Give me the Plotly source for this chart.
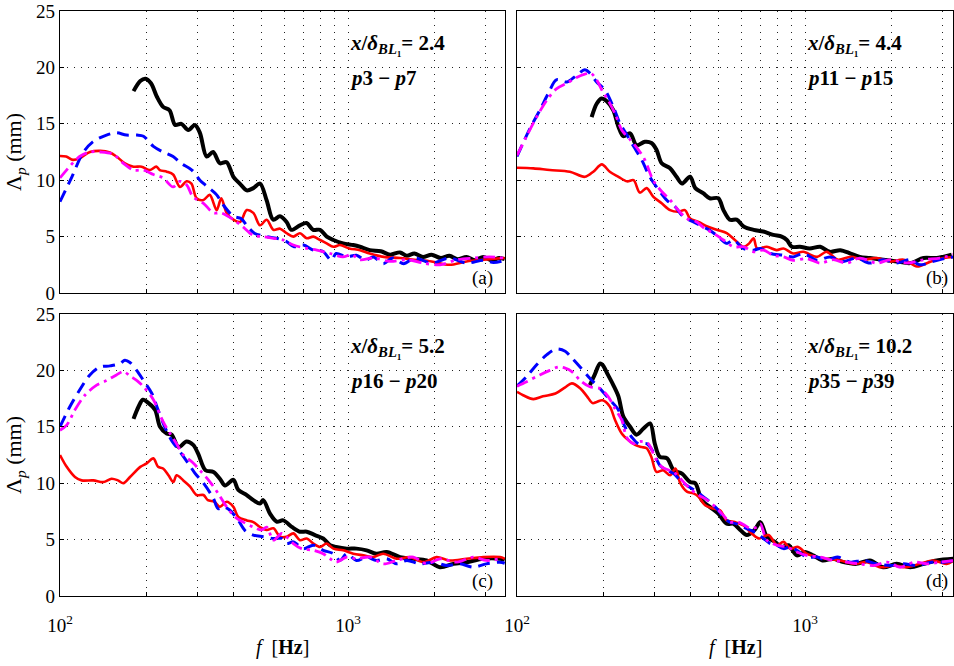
import plotly.graph_objects as go

# ---------------- data (frequency Hz, Lambda_p mm) ----------------
A_BLACK = [(180,17.9),(190,18.8),(198,19.0),(207,18.6),(217,17.4),(228,16.5),(240,16.2),(251,14.9),(264,15.0),(279,14.45),
           (294,14.9),(306,14.2),(323,12.1),(340,12.5),(359,11.5),(379,11.6),(400,10.3),(421,9.7),(445,9.1),(469,9.3),
           (495,9.7),(522,8.2),(550,6.5),(580,6.8),(612,6.3),(635,5.6),(681,6.0),(718,6.2),(757,5.6),(800,5.6),
           (844,5.0),(890,4.7),(962,4.4),(1043,4.25),(1100,4.1),(1190,3.8),(1300,3.7),(1400,3.4),(1515,3.6),(1600,3.3),
           (1700,3.5),(1820,3.2),(1950,3.4),(2100,3.1),(2250,3.3),(2400,3.0),(2580,3.2),(2750,2.9),(2950,3.2),(3150,2.9),
           (3350,3.1),(3500,3.0)]
A_BLUE = [(100,8.1),(110,10.3),(120,12.4),(130,13.4),(145,14.0),(157,14.2),(170,14.0),(185,14.0),(195,13.9),(211,13.0),
          (228,12.5),(247,12.1),(263,11.5),(287,10.9),(306,10.0),(326,9.4),(350,8.7),(369,7.8),(400,6.8),(425,6.6),
          (448,5.9),(473,5.3),(522,5.0),(564,4.85),(612,4.55),(650,4.1),(700,4.25),(758,3.8),(817,3.7),(876,2.9),
          (909,3.5),(990,3.2),(1070,3.35),(1150,2.9),(1225,3.2),(1325,2.6),(1430,3.1),(1560,2.6),(1700,3.1),(1950,2.65),
          (2250,3.1),(2580,2.65),(2950,2.9),(3200,2.7),(3500,2.9)]
A_MAGENTA = [(100,10.2),(117,12.1),(127,12.5),(138,12.5),(153,12.3),(166,11.5),(180,10.9),(195,10.9),(211,10.5),(228,10.2),
             (247,9.4),(261,9.9),(275,9.6),(290,8.5),(315,7.95),(341,7.1),(363,7.1),(400,6.5),(430,5.9),(469,5.1),
             (505,5.0),(551,4.85),(596,4.7),(646,4.25),(719,3.95),(780,3.8),(867,3.5),(960,3.2),(1030,3.4),(1100,2.95),
             (1225,3.1),(1400,2.8),(1600,2.95),(1830,2.65),(2086,2.5),(2390,2.95),(2720,3.1),(3100,3.2),(3500,3.1)]
A_RED = [(100,12.15),(105,12.1),(111,11.8),(117,11.95),(127,12.5),(138,12.6),(149,12.45),(157,12.1),(168,11.5),(180,11.2),
         (192,11.2),(205,10.9),(216,11.2),(222,10.9),(235,10.75),(247,10.5),(261,9.4),(275,9.9),(286,9.7),(298,8.4),
         (315,8.25),(331,8.7),(350,7.35),(363,8.4),(379,7.1),(400,6.5),(422,6.3),(445,7.35),(469,7.1),(495,6.0),
         (522,6.5),(551,5.6),(581,5.7),(612,5.3),(646,5.0),(681,5.3),(719,4.85),(758,5.0),(800,4.7),(843,4.4),
         (890,4.1),(938,4.25),(1010,3.95),(1101,3.8),(1190,3.5),(1330,3.2),(1516,3.1),(1700,2.95),(1950,2.8),(2250,2.5),
         (2580,2.8),(2950,2.95),(3500,3.1)]

B_BLACK = [(181.6,15.6),(189.3,16.8),(196.6,17.25),(205,17.0),(216,16.2),(225,14.75),(234,13.9),(247,14.15),(260,13.1),(278,13.4),
           (293,13.3),(305,12.7),(318,11.5),(340,11.05),(358,10.3),(374,9.7),(399,10.3),(416,9.3),(443,8.85),(467,8.4),
           (500,8.4),(521,7.35),(548,6.5),(579,6.5),(612,5.9),(663,5.6),(717,5.45),(776,5.15),(830,5.0),(865,4.7),
           (900,4.1),(960,4.1),(1038,3.95),(1130,4.1),(1220,3.65),(1325,3.8),(1440,3.5),(1550,3.2),(1680,3.1),(1870,2.95),
           (2080,2.8),(2320,2.65),(2580,3.1),(2865,3.1),(3230,3.4)]
B_BLUE = [(100,12.1),(105,13.3),(111,14.6),(120,16.2),(128.5,17.7),(137,18.9),(149,18.7),(161,19.3),(172,19.8),(179,19.5),
          (189,18.7),(202,18.0),(216,16.5),(228,15.0),(241,14.0),(254,13.0),(271,11.8),(289,10.3),(305,9.4),(332,8.2),
          (354,7.65),(377,6.8),(410,6.3),(432,6.0),(464,5.6),(494,5.1),(535,4.4),(565,4.7),(610,3.95),(663,3.8),
          (700,3.95),(757,3.5),(842,3.35),(910,3.2),(987,3.5),(1100,2.9),(1220,3.2),(1360,2.8),(1510,3.1),(1680,2.65),
          (1870,2.95),(2080,2.65),(2320,2.95),(2500,2.5),(2790,2.8),(3100,3.1),(3280,3.2)]
B_MAGENTA = [(100,12.2),(108,13.9),(117,15.6),(127,17.1),(137,18.1),(149,18.6),(161,19.1),(172,19.4),(180,19.5),(189,18.9),
             (197,18.0),(207,17.1),(219,15.9),(231,14.45),(247,13.6),(264,12.7),(278,11.8),(297,10.0),(318,9.0),(340,8.25),
             (363,7.35),(389,6.6),(421,6.3),(449,5.7),(481,5.3),(521,4.7),(565,4.1),(612,4.1),(663,3.65),(717,3.8),
             (776,3.35),(842,3.2),(910,2.9),(1012,3.05),(1130,2.65),(1254,2.95),(1395,2.65),(1550,3.1),(1775,2.65),(1980,2.95),
             (2260,2.65),(2580,2.95),(2940,3.1),(3280,3.4)]
B_RED = [(100,11.1),(114,11.05),(130,10.9),(152.6,10.75),(172,10.3),(184,10.75),(197,11.4),(210,10.75),(225,10.3),(241,9.9),
         (254,10.0),(267,8.9),(282,9.3),(297,8.55),(318,7.95),(340,7.35),(363,7.2),(383,7.35),(399,6.6),(427,6.3),
         (458,5.9),(494,5.6),(535,5.3),(571,4.7),(612,4.1),(640,4.4),(663,4.85),(682,3.95),(737,4.1),(797,3.8),
         (842,3.95),(910,3.5),(987,3.65),(1100,3.2),(1190,3.65),(1300,2.95),(1440,3.2),(1590,2.95),(1775,3.1),(1980,2.8),
         (2200,2.95),(2450,2.35),(2740,2.8),(3030,3.1),(3280,3.2)]

C_BLACK = [(180,15.7),(187.5,16.8),(194,17.4),(203,17.1),(214,16.5),(222.5,15.0),(234.6,14.4),(244,14.3),(258,13.2),(275,13.7),
           (290,13.4),(302,12.6),(320,11.15),(341,11.0),(359,10.4),(374,9.8),(400,10.3),(416,9.4),(445,8.95),(469,8.5),
           (495,8.2),(508,8.5),(536,7.3),(565,6.6),(596,6.7),(640,6.1),(681,5.7),(719,5.7),(768,5.4),(820,5.1),
           (867,4.5),(909,4.35),(990,4.2),(1070,4.2),(1160,4.05),(1255,3.75),(1362,3.9),(1516,3.45),(1686,3.3),(1875,3.15),
           (2086,2.55),(2321,2.85),(2582,3.0),(2950,3.3),(3370,3.3),(3500,3.2)]
C_BLUE = [(100,15.0),(108.3,16.8),(117.3,18.3),(127,19.6),(137.7,20.3),(149.2,20.4),(161.6,20.6),(168,20.9),(175,20.7),(184.6,20.0),
          (195,19.1),(208,18.0),(219,16.5),(231,15.0),(244,13.8),(261,12.8),(279,11.75),(294,10.9),(315,10.0),(341,8.65),
          (354,7.75),(369,7.9),(389,7.6),(416,6.7),(439,5.8),(469,5.4),(508,5.25),(551,5.1),(588,5.1),(612,4.65),
          (646,4.8),(700,4.2),(758,4.5),(820,4.05),(890,3.75),(938,3.15),(990,3.75),(1070,3.15),(1160,3.45),(1255,3.15),
          (1362,3.3),(1475,2.85),(1600,3.15),(1780,2.85),(1980,3.0),(2200,2.7),(2450,2.85),(2720,2.55),(3020,2.85),(3370,3.0),
          (3500,2.9)]
C_MAGENTA = [(100,14.7),(105.5,15.15),(112.7,16.5),(122,17.8),(134,18.7),(145,19.1),(157,19.6),(166,19.9),(175,19.5),(185,19.1),
             (195,18.55),(211,17.4),(228,15.45),(241,14.4),(254,13.5),(268,12.5),(287,11.9),(306,11.15),(332,10.1),(354,9.1),
             (379,7.9),(405,7.0),(433,6.55),(469,6.1),(501,5.85),(522,6.1),(551,4.95),(588,5.55),(612,5.25),(646,4.65),
             (690,4.2),(758,4.05),(820,3.75),(867,3.3),(909,3.0),(990,3.45),(1070,3.3),(1190,3.45),(1325,2.85),(1475,3.15),
             (1686,3.45),(1875,2.85),(2086,3.3),(2390,3.0),(2720,3.45),(3020,3.15),(3370,3.3)]
C_RED = [(100,12.5),(105.5,11.45),(112.7,10.55),(118.9,10.25),(130.5,10.25),(141.5,10.1),(151,10.4),(159,10.25),(166,10.0),(175,10.55),
         (190,11.45),(200,11.75),(211,12.2),(219,11.45),(228,11.3),(238,10.7),(247.5,10.1),(254,10.7),(268,10.25),(283,9.7),
         (298,8.95),(315,8.95),(326,8.5),(344,8.35),(359,7.9),(379,8.35),(400,7.9),(416,7.0),(445,6.7),(469,6.55),
         (495,6.1),(522,5.85),(551,6.0),(581,5.25),(612,5.25),(646,5.55),(681,4.95),(719,5.1),(758,4.65),(800,4.35),
         (843,4.65),(890,4.2),(962,4.05),(1043,3.75),(1130,3.6),(1225,3.45),(1325,3.75),(1475,3.3),(1640,3.45),(1830,3.0),
         (2030,3.45),(2250,3.15),(2580,3.3),(2950,3.45),(3370,3.45),(3500,3.3)]

D_BLACK = [(179,18.7),(186,19.6),(194,20.6),(198,20.5),(207,19.6),(216,18.7),(225,17.7),(234,15.9),(247,15.0),(260,14.3),
           (275,14.85),(290,15.3),(301,13.5),(313,12.35),(332,12.2),(350,11.15),(374,10.85),(399,10.1),(416,10.0),(438,8.5),
           (467,7.9),(500,7.3),(535,6.4),(565,6.4),(596,5.85),(628,5.4),(668,5.85),(700,6.55),(737,5.25),(786,4.8),
           (830,4.35),(876,4.5),(937,3.6),(1000,3.9),(1067,3.6),(1150,3.15),(1254,3.3),(1360,3.0),(1510,2.85),(1680,3.15),
           (1870,2.55),(2080,2.85),(2320,2.55),(2580,2.85),(2870,3.15),(3280,3.3)]
D_BLUE = [(100,18.6),(108,19.45),(117,20.5),(127,21.4),(137,21.9),(147,21.7),(155,21.1),(165.6,20.3),(179,19.3),(194,18.4),
          (210,17.4),(225,16.5),(237,15.0),(250,14.1),(264,13.5),(282,13.5),(297,12.8),(313,11.6),(332,11.15),(350,10.85),
          (369,10.25),(394,9.7),(421,9.25),(443,8.8),(467,8.35),(494,7.75),(521,7.0),(548,6.55),(579,6.4),(612,6.1),
          (645,5.85),(681,5.55),(718,5.1),(757,4.65),(799,4.5),(842,4.2),(889,4.35),(937,4.05),(1012,3.45),(1100,3.45),
          (1190,3.15),(1295,3.45),(1440,3.0),(1590,3.15),(1775,2.85),(1980,2.7),(2200,2.85),(2450,2.7),(2740,3.0),(3030,3.0),
          (3280,3.15)]
D_MAGENTA = [(100,18.6),(108,19.0),(120,19.6),(130,20.0),(139,20.3),(147,20.2),(155,19.9),(166,19.1),(179,18.55),(194,18.4),
             (207,17.7),(219,16.6),(231,15.6),(241,14.0),(254,13.5),(268,13.7),(286,13.5),(301,12.3),(318,11.45),(337,11.15),
             (355,10.85),(374,10.25),(399,9.5),(427,8.95),(458,8.5),(488,7.9),(521,7.15),(548,6.55),(586,6.55),(619,6.25),
             (645,6.0),(681,6.1),(700,6.4),(737,4.95),(799,4.5),(865,4.35),(937,3.9),(1012,3.6),(1130,3.45),(1254,3.15),
             (1395,3.0),(1550,2.85),(1730,2.7),(1930,3.0),(2140,2.55),(2390,3.0),(2660,2.85),(2950,3.0),(3280,3.15)]
D_RED = [(100,18.1),(105,17.8),(114,17.45),(123,17.7),(136,17.95),(147,18.5),(155,18.85),(166,18.4),(175,17.7),(183,17.1),
         (189,17.2),(198,17.35),(210,16.8),(219,15.6),(231,14.4),(244,13.8),(257,13.4),(271,13.2),(282,13.1),(293,12.3),
         (305,11.0),(322,11.15),(340,10.7),(355,11.3),(369,10.0),(389,9.25),(410,9.1),(427,8.8),(450,8.05),(481,7.75),
         (507,7.6),(535,6.7),(571,6.55),(612,6.25),(653,5.55),(692,5.1),(747,5.4),(799,4.5),(842,4.8),(889,4.2),
         (947,4.35),(1012,3.75),(1100,3.45),(1190,3.3),(1325,3.15),(1475,2.85),(1640,3.0),(1830,2.55),(2030,2.7),(2250,2.55),
         (2500,2.85),(2790,3.15),(3100,2.85),(3280,3.15)]

PANEL_TITLES = ["2.4", "4.4", "5.2", "10.2"]
PANEL_PROBES = [("3", "7"), ("11", "15"), ("16", "20"), ("35", "39")]
PANEL_TAGS = ["(a)", "(b)", "(c)", "(d)"]
GRID_F = [100, 200, 300, 400, 500, 600, 700, 800, 900, 1000, 2000, 3000]
Y_TICKS = [0, 5, 10, 15, 20, 25]

# ---------------- figure ----------------
W, H = 954, 666
FONT = "Liberation Serif"

fig = go.Figure()

panels = [
    (A_BLACK, A_BLUE, A_MAGENTA, A_RED),
    (B_BLACK, B_BLUE, B_MAGENTA, B_RED),
    (C_BLACK, C_BLUE, C_MAGENTA, C_RED),
    (D_BLACK, D_BLUE, D_MAGENTA, D_RED),
]

styles = {
    "black": dict(color="black", width=4, dash="solid"),
    "red": dict(color="#ff0000", width=2.6, dash="solid"),
    "blue": dict(color="#0000ff", width=3, dash="12px,7px"),
    "magenta": dict(color="#ff00ff", width=2.8, dash="12px,5px,3px,5px"),
}

for i, (blk, blu, mag, red) in enumerate(panels):
    ax = "" if i == 0 else str(i + 1)
    for series, key in [(blk, "black"), (red, "red"), (blu, "blue"), (mag, "magenta")]:
        fig.add_trace(go.Scatter(
            x=[p[0] for p in series], y=[p[1] for p in series],
            mode="lines", line=dict(shape="spline", smoothing=0.9, **styles[key]),
            xaxis="x" + ax, yaxis="y" + ax, showlegend=False, hoverinfo="skip"))

# pixel geometry
left_dom = [60 / W, 505 / W]
right_dom = [517 / W, 953 / W]
top_dom = [1 - 293 / H, 1 - 11 / H]
bot_dom = [1 - 596 / H, 1 - 314 / H]
decade_px = 288.0
left_rng = [2, 2 + 445 / decade_px]
right_rng = [2, 2 + 436 / decade_px]

ticktext = ["10<sup>2</sup>" if v == 100 else ("10<sup>3</sup>" if v == 1000 else "") for v in GRID_F]

def xax(dom, rng, show, anchor):
    return dict(type="log", domain=dom, range=rng, anchor=anchor,
                tickvals=GRID_F, ticktext=ticktext, showticklabels=show,
                showgrid=True, gridcolor="#222", gridwidth=1, griddash="1px,6px",
                ticks="inside", ticklen=4, tickcolor="black", ticklabelstandoff=12,
                showline=True, mirror=True, linecolor="black", linewidth=1.4,
                zeroline=False, automargin=False,
                tickfont=dict(family=FONT, size=19, color="black"))

def yax(dom, show, anchor):
    return dict(domain=dom, range=[0, 25], anchor=anchor,
                tickvals=Y_TICKS, showticklabels=show,
                showgrid=True, gridcolor="#222", gridwidth=1, griddash="1px,6px",
                ticks="inside", ticklen=4, tickcolor="black",
                showline=True, mirror=True, linecolor="black", linewidth=1.4,
                zeroline=False, automargin=False,
                tickfont=dict(family=FONT, size=19, color="black"))

fig.update_layout(
    width=W, height=H, margin=dict(l=0, r=0, t=0, b=0),
    paper_bgcolor="white", plot_bgcolor="white",
    xaxis=xax(left_dom, left_rng, False, "y"),
    yaxis=yax(top_dom, True, "x"),
    xaxis2=xax(right_dom, right_rng, False, "y2"),
    yaxis2=yax(top_dom, False, "x2"),
    xaxis3=xax(left_dom, left_rng, True, "y3"),
    yaxis3=yax(bot_dom, True, "x3"),
    xaxis4=xax(right_dom, right_rng, True, "y4"),
    yaxis4=yax(bot_dom, False, "x4"),
)

ann = []
tag_x = [0.978, 0.993, 0.978, 0.993]
for i in range(4):
    ax = "" if i == 0 else str(i + 1)
    ann.append(dict(xref="x" + ax, yref="y" + ax, x=3, y=22.1, xanchor="left", yanchor="middle",
                    text="<b><i>x</i>/<i>δ</i><sub><i>BL</i>₁</sub>= " + PANEL_TITLES[i] + "</b>",
                    showarrow=False, font=dict(family=FONT, size=21, color="black")))
    a, b = PANEL_PROBES[i]
    ann.append(dict(xref="x" + ax, yref="y" + ax, x=3, y=19.1, xanchor="left", yanchor="middle",
                    text="<b><i>p</i>" + a + " − <i>p</i>" + b + "</b>",
                    showarrow=False, font=dict(family=FONT, size=21, color="black")))
    ann.append(dict(xref="x" + ax + " domain", yref="y" + ax, x=tag_x[i], y=1.3, xanchor="right", yanchor="middle",
                    text=PANEL_TAGS[i], showarrow=False, font=dict(family=FONT, size=19, color="black")))

for yc in [(top_dom[0] + top_dom[1]) / 2, (bot_dom[0] + bot_dom[1]) / 2]:
    ann.append(dict(xref="paper", yref="paper", x=15 / W, y=yc, xanchor="center", yanchor="middle",
                    textangle=-90, text="Λ<sub><i>p</i></sub> (mm)", showarrow=False,
                    font=dict(family=FONT, size=22, color="black")))
for xc in [282 / W, 735 / W]:
    ann.append(dict(xref="paper", yref="paper", x=xc, y=1 - 647 / H, xanchor="center", yanchor="middle",
                    text="<i>f</i>  [<b>Hz</b>]", showarrow=False,
                    font=dict(family=FONT, size=20, color="black")))

fig.update_layout(annotations=ann)
fig.write_html("out.html")
